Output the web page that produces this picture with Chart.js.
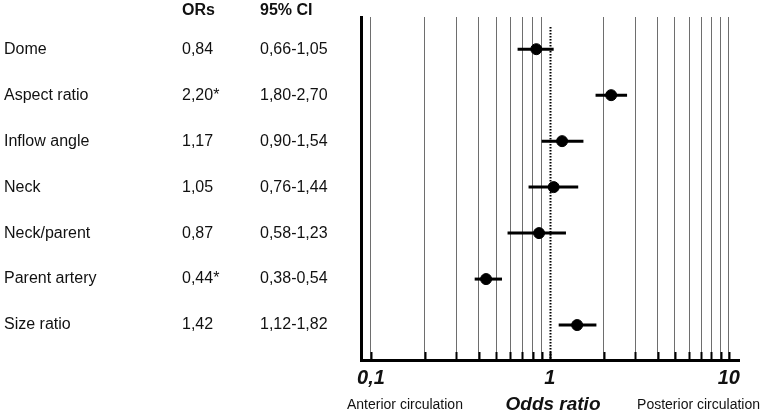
<!DOCTYPE html>
<html>
<head>
<meta charset="utf-8">
<script src="https://cdn.jsdelivr.net/npm/chart.js@4/dist/chart.umd.min.js"></script>
<style>
  html, body { margin: 0; padding: 0; background: #fff; }
  #wrap { width: 761px; height: 412px; position: relative; }
</style>
</head>
<body>
<div id="wrap"><canvas id="forest"></canvas></div>
<script>
// ------ Data ------
const FACTORS  = ['Dome', 'Aspect ratio', 'Inflow angle', 'Neck', 'Neck/parent', 'Parent artery', 'Size ratio'];
const ORS      = [0.84, 2.20, 1.17, 1.05, 0.87, 0.44, 1.42];
const CI_LOW   = [0.66, 1.80, 0.90, 0.76, 0.58, 0.38, 1.12];
const CI_HIGH  = [1.05, 2.70, 1.54, 1.44, 1.23, 0.54, 1.82];
const SIGNIF   = [false, true, false, false, false, true, false];
const X_TICKS  = [0.1, 0.2, 0.3, 0.4, 0.5, 0.6, 0.7, 0.8, 0.9, 1, 2, 3, 4, 5, 6, 7, 8, 9, 10];
const X_LABELS = { 0.1: '0,1', 1: '1', 10: '10' };

const FONT = '"Liberation Sans", Arial, Helvetica, sans-serif';
const fmt  = v => v.toFixed(2).replace('.', ',');

// rows numbered 1..n from the top
const rowPoints = ORS.map((v, i) => ({ x: v, y: i + 1 }));
const ciSets = CI_LOW.map((lo, i) => ({
  type: 'line',
  data: [{ x: lo, y: i + 1 }, { x: CI_HIGH[i], y: i + 1 }],
  borderColor: '#000', borderWidth: 3, pointRadius: 0, borderCapStyle: 'butt',
  order: 2
}));

// ------ Table text, reference line, ticks, captions ------
const forestDecor = {
  id: 'forestDecor',
  beforeDatasetsDraw(chart) {
    const { ctx, chartArea: a, scales: { x } } = chart;
    const px = Math.round(x.getPixelForValue(1)) + 0.5;
    ctx.save();
    ctx.strokeStyle = '#000';
    ctx.lineWidth = 2;
    ctx.setLineDash([1.5, 1.5]);
    ctx.beginPath(); ctx.moveTo(px, a.top + 10); ctx.lineTo(px, a.bottom); ctx.stroke();
    ctx.setLineDash([]);
    ctx.lineWidth = 2;
    X_TICKS.forEach(t => {
      const tx = Math.round(x.getPixelForValue(t)) + 0.5;
      ctx.beginPath(); ctx.moveTo(tx, a.bottom - 8); ctx.lineTo(tx, a.bottom); ctx.stroke();
    });
    ctx.restore();
  },
  afterDraw(chart) {
    const { ctx, chartArea: a, scales: { y } } = chart;
    ctx.save();
    ctx.fillStyle = '#111';
    ctx.textBaseline = 'middle';
    ctx.textAlign = 'left';
    const headY = y.getPixelForValue(1) - 39;
    ctx.font = 'bold 16px ' + FONT;
    ctx.fillText('ORs', 182, headY);
    ctx.fillText('95% CI', 260, headY);
    ctx.font = '16px ' + FONT;
    FACTORS.forEach((f, i) => {
      const ry = y.getPixelForValue(i + 1);
      ctx.fillText(f, 4, ry);
      ctx.fillText(fmt(ORS[i]) + (SIGNIF[i] ? '*' : ''), 182, ry);
      ctx.fillText(fmt(CI_LOW[i]) + '-' + fmt(CI_HIGH[i]), 260, ry);
    });
    // bottom captions
    const capY = 405;
    ctx.font = '14px ' + FONT;
    ctx.fillText('Anterior circulation', 347, capY);
    ctx.textAlign = 'right';
    ctx.fillText('Posterior circulation', 760, capY);
    ctx.textAlign = 'center';
    ctx.font = 'italic bold 19px ' + FONT;
    ctx.fillText('Odds ratio', (a.left + a.right) / 2 + 3, capY);
    ctx.restore();
  }
};

new Chart(document.getElementById('forest'), {
  type: 'scatter',
  data: {
    datasets: [
      { data: rowPoints, backgroundColor: '#000', borderColor: '#000',
        pointRadius: 5.5, pointHoverRadius: 5.5, order: 1 },
      ...ciSets
    ]
  },
  options: {
    responsive: true,
    maintainAspectRatio: false,
    animation: false,
    layout: { padding: { left: 361, right: 22, top: 17, bottom: 16 } },
    plugins: { legend: { display: false }, tooltip: { enabled: false } },
    scales: {
      x: {
        type: 'logarithmic',
        min: 0.088, max: 11.4,
        afterBuildTicks: axis => { axis.ticks = X_TICKS.map(v => ({ value: v })); },
        grid: {
          color: c => (c.tick && c.tick.value === 1) ? 'rgba(0,0,0,0)' : '#6e6e6e',
          lineWidth: 1, drawTicks: false
        },
        border: { display: true, color: '#000', width: 3 },
        ticks: {
          autoSkip: false, maxRotation: 0, padding: 6, color: '#111',
          font: { family: FONT, size: 20, style: 'italic', weight: 'bold' },
          callback: v => X_LABELS[v] || ''
        }
      },
      y: {
        type: 'linear',
        reverse: true,
        min: 0.3, max: 7.76,
        grid: { display: false, drawTicks: false },
        border: { display: true, color: '#000', width: 3 },
        ticks: { display: false }
      }
    }
  },
  plugins: [forestDecor]
});
</script>
</body>
</html>
